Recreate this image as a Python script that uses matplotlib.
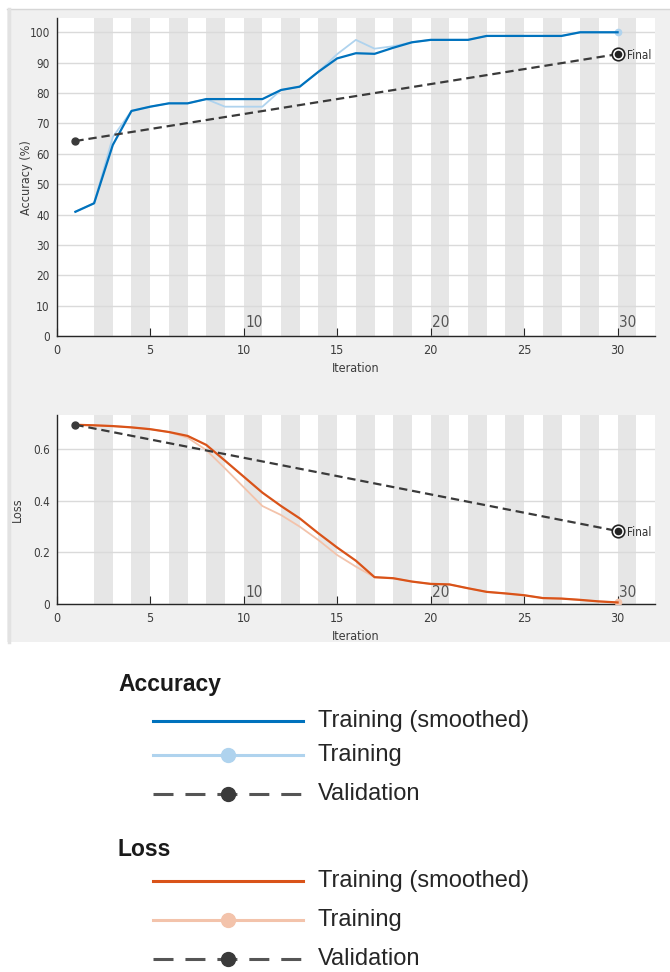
import numpy as np
import matplotlib
matplotlib.use("Agg")
import matplotlib.pyplot as plt
from matplotlib.patches import Rectangle
from matplotlib.lines import Line2D
from matplotlib import transforms

plt.rcParams['font.family'] = ['Liberation Sans', 'DejaVu Sans']
plt.rcParams['lines.scale_dashes'] = False

# data
iterations = np.arange(1, 31)
acc_smoothed = [40.9, 43.7, 62.9, 74.1, 75.5, 76.6, 76.6, 78.0, 78.0, 78.0,
                78.0, 81.0, 82.1, 87.0, 91.4, 93.1, 92.9, 94.9, 96.7, 97.5,
                97.5, 97.5, 98.8, 98.8, 98.8, 98.8, 98.8, 100.0, 100.0, 100.0]
acc_raw = [40.9, 43.7, 65.5, 74.1, 75.5, 76.6, 76.6, 78.0, 75.5, 75.5,
           75.5, 81.0, 82.1, 87.0, 92.8, 97.5, 94.6, 95.4, 96.7, 97.5,
           97.5, 97.5, 98.8, 98.8, 98.8, 98.8, 98.8, 100.0, 100.0, 100.0]
loss_smoothed = [0.695, 0.693, 0.690, 0.685, 0.678, 0.667, 0.652, 0.617, 0.556, 0.494,
                 0.432, 0.380, 0.332, 0.274, 0.219, 0.168, 0.104, 0.100, 0.087, 0.078,
                 0.076, 0.061, 0.047, 0.041, 0.034, 0.023, 0.021, 0.016, 0.010, 0.006]
loss_raw = [0.695, 0.693, 0.690, 0.685, 0.678, 0.667, 0.645, 0.597, 0.526, 0.453,
            0.380, 0.345, 0.300, 0.248, 0.190, 0.145, 0.104, 0.100, 0.087, 0.078,
            0.076, 0.061, 0.047, 0.041, 0.034, 0.023, 0.021, 0.016, 0.010, 0.006]
val_iter = [1, 30]
val_acc = [64.2, 92.8]
val_loss = [0.695, 0.283]

epoch_starts = np.arange(2, 31, 2)
epoch_labels = ['10', '20', '30']
epoch_label_iter = [10, 20, 30]
acc_ticks = [0, 10, 20, 30, 40, 50, 60, 70, 80, 90, 100]
loss_ticks = [0, 0.2, 0.4, 0.6]
x_ticks = [0, 5, 10, 15, 20, 25, 30]

legend_groups = ['Accuracy', 'Loss']
legend_items = ['Training (smoothed)', 'Training', 'Validation']

BLUE = '#0072bd'
LIGHT_BLUE = '#afd3ee'
ORANGE = '#d95319'
LIGHT_ORANGE = '#f3c3ab'
DARK = '#3a3a3a'
narrow = ['Liberation Sans Narrow', 'DejaVu Sans']

W, H = 670, 972
fig = plt.figure(figsize=(W / 100, H / 100), dpi=100)
fig.patch.set_facecolor('white')

# grey panel behind the two plots
fig.patches.append(Rectangle((7 / W, 1 - 642 / H), (W - 7) / W, (642 - 9) / H,
                             transform=fig.transFigure, facecolor='#f0f0f0',
                             edgecolor='none', zorder=-2))
fig.add_artist(Line2D([7 / W, 1], [1 - 9 / H, 1 - 9 / H], color='#d6d6d6', lw=1, zorder=-1))
fig.add_artist(Line2D([8.5 / W, 8.5 / W], [1 - 642 / H, 1 - 9 / H], color='#e2e2e2',
                      lw=2.5, zorder=-1))


def setup_axes(ax, ylim, yticks, ylabel, label_x):
    ax.set_facecolor('white')
    for s in epoch_starts:
        ax.axvspan(s, s + 1, color='#e6e6e6', lw=0, zorder=0)
    ax.set_xlim(0, 32)
    ax.set_ylim(*ylim)
    ax.set_axisbelow(True)
    ax.yaxis.grid(True, color='#dadada', lw=1)
    ax.set_yticks(yticks)
    ax.set_yticklabels([('%g' % t) for t in yticks])
    ax.set_xticks(x_ticks)
    ax.tick_params(axis='x', direction='in', length=6, width=0.8, color='#262626',
                   pad=6, labelsize=9, labelcolor='#3c3c3c')
    ax.tick_params(axis='y', length=0, pad=5, labelsize=8.5, labelcolor='#3c3c3c')
    for lab in ax.get_xticklabels() + ax.get_yticklabels():
        lab.set_family(narrow)
        lab.set_stretch('condensed')
    for side in ['top', 'right']:
        ax.spines[side].set_visible(False)
    for side in ['left', 'bottom']:
        ax.spines[side].set_color('#262626')
        ax.spines[side].set_linewidth(1)
    ax.set_ylabel(ylabel, family=narrow, stretch='condensed', fontsize=9, color='#3c3c3c')
    ax.yaxis.set_label_coords(label_x, 0.5)
    ax.set_xlabel('Iteration', family=narrow, stretch='condensed', fontsize=9,
                  color='#3c3c3c', labelpad=3)
    trans = transforms.blended_transform_factory(ax.transData, ax.transAxes)
    for it, lab in zip(epoch_label_iter, epoch_labels):
        ax.text(it + 0.08, 0.02, lab, transform=trans, ha='left', va='bottom',
                family=narrow, stretch='condensed', fontsize=11, color='#555555')


def final_marker(ax, x, y):
    ax.plot(x, y, 'o', ms=9, mfc='white', mec='#222222', mew=1.2, zorder=5)
    ax.plot(x, y, 'o', ms=4.5, color='#222222', zorder=6)
    ax.annotate('Final', (x, y), xytext=(7, -1), textcoords='offset points',
                ha='left', va='center', family=narrow, stretch='condensed',
                fontsize=8.5, color='#333333')


# accuracy
ax1 = fig.add_axes([56.7 / W, 1 - 336 / H, (655 - 56.7) / W, (336 - 18.3) / H])
setup_axes(ax1, (0, 104.6), acc_ticks, 'Accuracy (%)', -0.04)
ax1.plot(iterations, acc_raw, color=LIGHT_BLUE, lw=1.3, zorder=2)
ax1.plot(iterations[-1], acc_raw[-1], 'o', ms=4.5, color=LIGHT_BLUE, zorder=3)
ax1.plot(iterations, acc_smoothed, color=BLUE, lw=1.6, zorder=3)
ax1.plot(val_iter, val_acc, color=DARK, lw=1.6, ls=(0, (6, 3.5)), zorder=4)
ax1.plot(val_iter[0], val_acc[0], 'o', ms=5, color=DARK, zorder=5)
final_marker(ax1, val_iter[-1], val_acc[-1])

# loss
ax2 = fig.add_axes([56.7 / W, 1 - 604 / H, (655 - 56.7) / W, (604 - 415) / H])
setup_axes(ax2, (0, 0.733), loss_ticks, 'Loss', -0.055)
ax2.plot(iterations, loss_raw, color=LIGHT_ORANGE, lw=1.3, zorder=2)
ax2.plot(iterations[-1], loss_raw[-1], 'o', ms=4.5, color=LIGHT_ORANGE, zorder=3)
ax2.plot(iterations, loss_smoothed, color=ORANGE, lw=1.6, zorder=3)
ax2.plot(val_iter, val_loss, color=DARK, lw=1.6, ls=(0, (6, 3.5)), zorder=4)
ax2.plot(val_iter[0], val_loss[0], 'o', ms=5, color=DARK, zorder=5)
final_marker(ax2, val_iter[-1], val_loss[-1])

# legend drawn below the plots
group_y = [685, 849]
row_y = [[721, 755, 794], [881, 920, 959]]
group_colors = [(BLUE, LIGHT_BLUE), (ORANGE, LIGHT_ORANGE)]
x0, x1, xt = 153 / W, 303 / W, 318 / W
xm = 228 / W
for g, name in enumerate(legend_groups):
    fig.text(118 / W, 1 - group_y[g] / H, name, fontsize=16.5, fontweight='bold',
             color='#1a1a1a', ha='left', va='center')
    dark_c, light_c = group_colors[g]
    ys = [1 - y / H for y in row_y[g]]
    fig.add_artist(Line2D([x0, x1], [ys[0], ys[0]], color=dark_c, lw=2.2))
    fig.add_artist(Line2D([x0, x1], [ys[1], ys[1]], color=light_c, lw=2.2))
    fig.add_artist(Line2D([xm], [ys[1]], marker='o', ms=10, color=light_c, lw=0))
    fig.add_artist(Line2D([x0, x1], [ys[2], ys[2]], color='#555555', lw=2.2,
                          ls=(0, (14.4, 8.6))))
    fig.add_artist(Line2D([xm], [ys[2]], marker='o', ms=10, color=DARK, lw=0))
    for y, item in zip(ys, legend_items):
        fig.text(xt, y, item, fontsize=17, color='#262626', ha='left', va='center')

fig.savefig('out.png', dpi=100)
